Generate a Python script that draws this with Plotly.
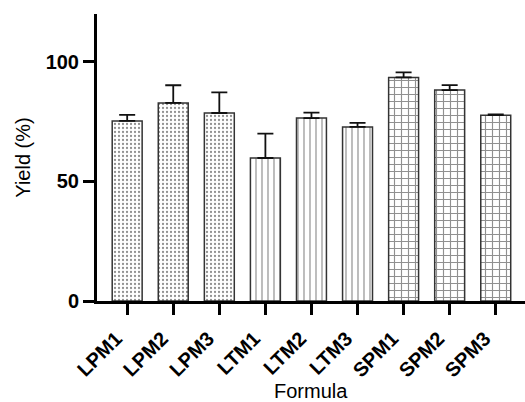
import plotly.graph_objects as go

categories = ["LPM1", "LPM2", "LPM3", "LTM1", "LTM2", "LTM3", "SPM1", "SPM2", "SPM3"]
yield_mean = [75.3, 82.8, 78.6, 59.8, 76.5, 72.8, 93.5, 88.2, 77.7]
yield_err = [2.5, 7.4, 8.6, 10.2, 2.3, 1.7, 2.1, 2.1, 0.3]
pattern_shapes = [".", ".", ".", "|", "|", "|", "+", "+", "+"]
pattern_sizes = [4, 4, 4, 6, 6, 6, 7, 7, 7]
pattern_solidity = [0.25, 0.25, 0.25, 0.2, 0.2, 0.2, 0.3, 0.3, 0.3]
y_ticks = [0, 50, 100]
x_title = "Formula"
y_title = "Yield (%)"

font_family = "Liberation Sans, Arial, sans-serif"

fig = go.Figure()
fig.add_trace(go.Bar(
    x=categories,
    y=yield_mean,
    width=0.65,
    marker=dict(
        color="white",
        line=dict(color="#333333", width=1.5),
        pattern=dict(shape=pattern_shapes, size=pattern_sizes,
                     solidity=pattern_solidity, fgcolor="#222222",
                     bgcolor="white", fillmode="overlay"),
    ),
    error_y=dict(type="data", array=yield_err, arrayminus=[0] * len(yield_err),
                 symmetric=False, color="#111111", thickness=1.8, width=8),
    showlegend=False,
))

fig.update_layout(
    width=525, height=402,
    margin=dict(l=97, r=0, t=14, b=101),
    plot_bgcolor="white", paper_bgcolor="white",
    font=dict(family=font_family, color="black"),
    annotations=[dict(text=x_title, xref="paper", yref="paper", x=0.5, y=0,
                      xanchor="center", yanchor="middle", yshift=-90,
                      showarrow=False, font=dict(size=20, family=font_family))],
)
fig.update_xaxes(
    range=[-0.655, 8.635],
    showline=True, linecolor="black", linewidth=3,
    ticks="outside", ticklen=11, tickwidth=3, tickcolor="black",
    tickangle=-45,
    ticklabelshift=-11, ticklabelstandoff=4,
    tickfont=dict(size=20, family=font_family, weight="bold"),
    showgrid=False, zeroline=False,
    automargin=False,
)
fig.update_yaxes(
    range=[0, 120],
    tickvals=y_ticks,
    showline=True, linecolor="black", linewidth=3,
    ticks="outside", ticklen=11, tickwidth=3, tickcolor="black",
    tickfont=dict(size=20, family=font_family, weight="bold"),
    showgrid=False, zeroline=False,
    title=dict(text=y_title, font=dict(size=20, family=font_family), standoff=10),
    automargin=False,
)

fig.write_html("out.html", config={"displayModeBar": False},
               post_script="document.body.style.margin='0';document.body.style.overflow='hidden';")
